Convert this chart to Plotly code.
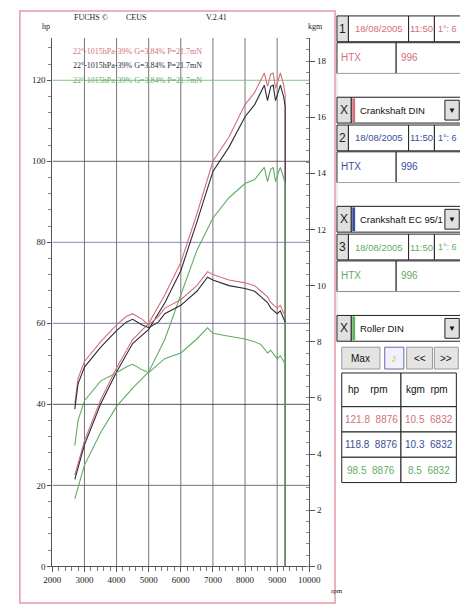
import plotly.graph_objects as go

W, H = 468, 609
rpm = [2700, 3000, 3500, 4000, 4500, 5000, 5500, 6000, 6500, 7000, 7500, 8000, 8300, 8500, 8600, 8700, 8800, 8876, 8950, 9050, 9100, 9200, 9250]
hp_red = [22.5, 31, 41, 49, 56, 60, 67, 75, 87, 100, 106, 114, 117, 120.5, 121.8, 118.5, 121.5, 121.8, 118, 120.5, 121.8, 119, 116.5]
hp_blk = [21.5, 30, 40, 48, 55, 58.5, 65, 73, 85, 97.5, 103.5, 111, 114, 117.5, 118.8, 115, 118.5, 118.8, 115, 117.5, 118.8, 116, 113.5]
hp_grn = [16.7, 25, 33, 39.5, 44, 48, 56, 67, 78, 86, 91, 94.5, 95.5, 97.5, 98.5, 95, 98, 98.5, 95, 97.5, 98.5, 96, 94.5]
tq_rpm = [2700, 2800, 3000, 3500, 4000, 4300, 4500, 4800, 5000, 5300, 5500, 6000, 6500, 6832, 7000, 7500, 8000, 8300, 8500, 8700, 8800, 9000, 9100, 9250]
tq_red = [5.8, 6.7, 7.3, 8.0, 8.6, 8.9, 9.0, 8.8, 8.6, 8.9, 9.2, 9.5, 10.0, 10.5, 10.4, 10.2, 10.1, 10.0, 9.8, 9.6, 9.4, 9.2, 9.3, 8.9]
tq_blk = [5.6, 6.5, 7.1, 7.8, 8.4, 8.7, 8.8, 8.6, 8.5, 8.7, 9.0, 9.3, 9.8, 10.3, 10.2, 10.0, 9.9, 9.8, 9.6, 9.4, 9.2, 9.0, 9.1, 8.7]
tq_grn = [4.3, 5.2, 5.9, 6.6, 6.9, 7.1, 7.2, 7.0, 6.9, 7.2, 7.4, 7.6, 8.1, 8.5, 8.3, 8.2, 8.1, 8.0, 7.9, 7.6, 7.7, 7.4, 7.5, 7.2]
x_ticks = [2000, 3000, 4000, 5000, 6000, 7000, 8000, 9000, 10000]
x_labels = ["2000", "3000", "4000", "5000", "6000", "7000", "8000", "9000", "10000"]
hp_ticks = [0, 20, 40, 60, 80, 100, 120]
kgm_ticks = [0, 2, 4, 6, 8, 10, 12, 14, 16, 18]

RED, BLK, GRN, BLU = "#d46f7c", "#2b2b3b", "#5fae62", "#3a4f9a"
SERIF = "Liberation Serif"
SANS = "Liberation Sans"

fig = go.Figure()
for y, c in [(hp_red, RED), (hp_blk, BLK), (hp_grn, GRN)]:
    fig.add_trace(go.Scatter(x=rpm + [rpm[-1]], y=y + [0], mode="lines", line=dict(color=c, width=1.1), yaxis="y"))
for y, c in [(tq_red, RED), (tq_blk, BLK), (tq_grn, GRN)]:
    fig.add_trace(go.Scatter(x=tq_rpm, y=y, mode="lines", line=dict(color=c, width=1.1), yaxis="y2"))

def px(x): return x / W
def py(y): return 1 - y / H

x0, x1, yt, yb = 37, 306, 30, 563
fig.update_layout(
    width=W, height=H, margin=dict(l=0, r=0, t=0, b=0), showlegend=False,
    paper_bgcolor="white", plot_bgcolor="white",
    xaxis=dict(domain=[px(x0), px(x1)], range=[2000, 10000], tickvals=x_ticks, ticktext=x_labels, showgrid=False,
               ticks="outside", ticklen=5, tickcolor="#555", showline=True, linecolor="#555",
               minor=dict(dtick=200, ticks="outside", ticklen=4, tickcolor="#777"),
               tickfont=dict(family=SERIF, size=9, color="#222"), zeroline=False),
    yaxis=dict(domain=[py(yb), py(yt)], range=[0, 130.5], tickvals=hp_ticks, showgrid=False,
               ticks="outside", ticklen=4, tickcolor="#555", showline=True, linecolor="#555",
               minor=dict(dtick=4, ticks="outside", ticklen=3, tickcolor="#888"),
               tickfont=dict(family=SERIF, size=9, color="#222"), zeroline=False),
    yaxis2=dict(overlaying="y", side="right", range=[0, 18.83], tickvals=kgm_ticks, showgrid=False,
                ticks="outside", ticklen=5, tickcolor="#555", showline=True, linecolor="#555",
                minor=dict(dtick=0.4, ticks="inside", ticklen=3, tickcolor="#888"),
                tickfont=dict(family=SERIF, size=9, color="#222"), zeroline=False),
)
for v in x_ticks[1:-1]:
    fig.add_shape(type="line", xref="x", yref="y", x0=v, x1=v, y0=0, y1=130.5, line=dict(color="#666", width=0.9), layer="below")
gcol = {20: "#666", 40: "#444", 60: "#6a6aa0", 80: "#8a70b0", 100: "#555", 120: "#7cb87c"}
for v in hp_ticks[1:]:
    fig.add_shape(type="line", xref="x", yref="y", x0=2000, x1=10000, y0=v, y1=v, line=dict(color=gcol[v], width=0.9), layer="below")

ann = []
def txt(x, y, s, color="#222", size=10, family=SERIF, xanchor="left"):
    ann.append(dict(x=px(x), y=py(y), xref="paper", yref="paper", text=s, showarrow=False,
                    xanchor=xanchor, yanchor="middle", font=dict(family=family, size=size, color=color)))
txt(58, 10, "FUCHS ©", size=8)
txt(112, 10, "CEUS", size=8)
txt(196, 10, "V.2.41", size=8)
txt(30, 19, "hp", size=8, xanchor="center")
txt(312, 19, "kgm", size=8, xanchor="center")
txt(327, 588, "rpm", size=7)
legend = "22°-1015hPa-39% G=3.84% P=21.7mN"
txt(57, 44, legend, RED, 8)
txt(57, 58, legend, BLK, 8)
txt(57, 73, legend, GRN, 8)

shapes = []
def rect(xa, ya, xb, yb, fill="white", line="#222", w=1):
    shapes.append(dict(type="rect", xref="paper", yref="paper", x0=px(xa), x1=px(xb), y0=py(yb), y1=py(ya),
                       fillcolor=fill, line=dict(color=line, width=w)))
rect(3, 3, 333, 600, fill="rgba(0,0,0,0)", line="#e59aa8", w=1.5)

def block(y0, color, name, bar):
    rect(335, y0, 347, y0 + 26, fill="#e0e0e0")
    txt(341, y0 + 13, str(name), "#222", 12, SANS, "center")
    rect(347, y0, 410, y0 + 26); txt(378.5, y0 + 13, "18/08/2005", color, 9.5, SANS, "center")
    rect(410, y0, 437, y0 + 26); txt(423.5, y0 + 13, "11:50", color, 9.5, SANS, "center")
    rect(437, y0, 465, y0 + 26); txt(451, y0 + 13, "1°: 6", color, 9, SANS, "center")
    rect(335, y0 + 27, 397, y0 + 58); txt(337, y0 + 42, "HTX", color, 10, SANS)
    rect(397, y0 + 27, 465, y0 + 58); txt(400, y0 + 42, "996", color, 10, SANS)
    rect(335, y0 + 58, 465, y0 + 82, line="#bbb", w=0.5)
    d = y0 + 82
    rect(335, d, 350, d + 26, fill="#e0e0e0"); txt(342.5, d + 13, "X", "#222", 12, SANS, "center")
    rect(350, d, 465, d + 26)
    rect(351, d + 1, 354, d + 25, fill=color, line=color, w=0)
    txt(357, d + 13, bar, "#111", 9.5, SANS)
    rect(448, d + 3, 463, d + 23, fill="#e0e0e0")
    txt(455.5, d + 13, "▼", "#111", 8, SANS, "center")

block(8, RED, 1, "Crankshaft DIN")
block(118, BLU, 2, "Crankshaft EC 95/1")
block(228, GRN, 3, "Roller DIN")
rect(340, 342, 380, 364, fill="#e4e4e4", line="#999"); txt(360, 353, "Max", "#111", 10, SANS, "center")
rect(385, 342, 405, 364, fill="#f0f0ff", line="#6a6aa0"); txt(395, 353, "♪", "#e6c400", 12, SANS, "center")
rect(408, 342, 435, 364, fill="#e4e4e4", line="#999"); txt(421.5, 353, "<<", "#111", 10, SANS, "center")
rect(437, 342, 462, 364, fill="#e4e4e4", line="#999"); txt(449.5, 353, ">>", "#111", 10, SANS, "center")
rect(340, 368, 402, 402); rect(402, 368, 460, 402)
txt(344, 385, "hp    rpm", "#111", 10, SANS); txt(405, 385, "kgm  rpm", "#111", 10, SANS)
rows = [("121.8  8876", "10.5  6832", RED), ("118.8  8876", "10.3  6832", BLU), ("98.5  8876", "8.5  6832", GRN)]
for i, (a, b, c) in enumerate(rows):
    y0 = 402 + i * 25.5
    rect(340, y0, 402, y0 + 25.5); rect(402, y0, 460, y0 + 25.5)
    txt(371, y0 + 13, a, c, 10, SANS, "center"); txt(431, y0 + 13, b, c, 10, SANS, "center")

fig.update_layout(annotations=ann, shapes=fig.layout.shapes + tuple(shapes))
fig.write_html("out.html")
